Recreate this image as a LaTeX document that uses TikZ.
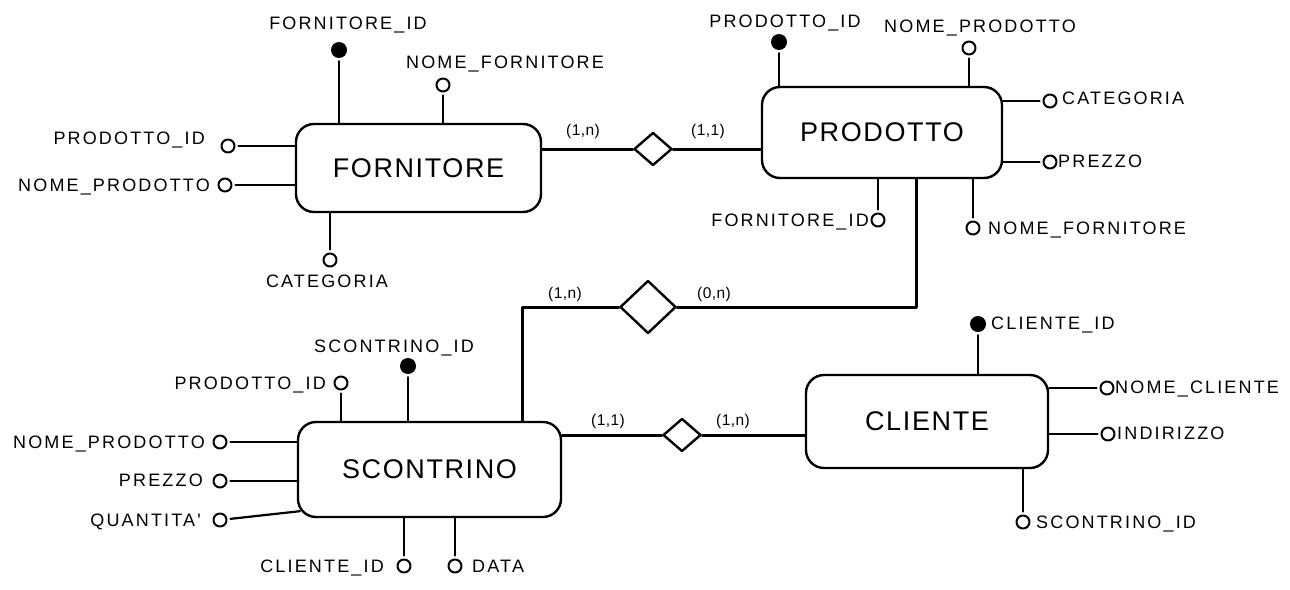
\documentclass[tikz,border=0pt]{standalone}
\usepackage{fontspec}
\setmainfont{Liberation Sans}
\newfontfamily\attrfont[LetterSpace=12]{Liberation Sans}
\newfontfamily\entfont[LetterSpace=6]{Liberation Sans}
\newfontfamily\cardfont[LetterSpace=3]{Liberation Sans}
\usetikzlibrary{shapes.geometric}

\begin{document}
\begin{tikzpicture}[x=1pt,y=-1pt,line join=round,line cap=round,
    entity/.style={draw,line width=2.4pt,rounded corners=18pt,font=\entfont\fontsize{27}{27}\selectfont},
    rel/.style={draw,diamond,line width=2.4pt,inner sep=0pt},
    attr/.style={draw,circle,line width=2pt,minimum size=13pt,inner sep=0pt},
    pk/.style={fill,circle,minimum size=16pt,inner sep=0pt},
    lbl/.style={font=\attrfont\fontsize{18}{18}\selectfont,inner sep=0pt,text height=13pt,text depth=0pt},
    card/.style={font=\cardfont\fontsize{15.5}{15.5}\selectfont,inner sep=0pt},
    aline/.style={line width=2.2pt,shorten <=3pt},
    rline/.style={line width=3pt}]
    \fill[white] (0,0) rectangle (1290,589);
    \useasboundingbox (0,0) rectangle (1290,589);

    \node[entity,minimum width=245pt,minimum height=88pt] (forn) at (418.5,168) {FORNITORE};
    \node[entity,minimum width=240pt,minimum height=91pt] (prod) at (882,132.5) {PRODOTTO};
    \node[entity,minimum width=263pt,minimum height=95pt] (scon) at (429.5,469.5) {SCONTRINO};
    \node[entity,minimum width=242pt,minimum height=93pt] (cli) at (927,421.5) {CLIENTE};

    \node[rel,minimum width=38pt,minimum height=33pt] (r1) at (653,149) {};
    \node[rel,minimum width=56pt,minimum height=53pt] (r2) at (648,307) {};
    \node[rel,minimum width=38pt,minimum height=33pt] (r3) at (682,435) {};

    \draw[rline] (forn.east |- r1) -- (r1.west);
    \draw[rline] (r1.east) -- (r1 -| prod.west);
    \draw[rline] (r2.west) -| ([xshift=92.5pt]scon.north);
    \draw[rline] (r2.east) -| ([xshift=34pt]prod.south);
    \draw[rline] (scon.east |- r3) -- (r3.west);
    \draw[rline] (r3.east) -- (r3 -| cli.west);

    \node[card] (k1) at (583,131) {(1,n)};
    \node[card] (k2) at (708,131) {(1,1)};
    \node[card] (k3) at (565,294) {(1,n)};
    \node[card] (k4) at (714,294) {(0,n)};
    \node[card] (k5) at (608,421) {(1,1)};
    \node[card] (k6) at (733,421) {(1,n)};

    \node[pk] (fid) at (339,50) {};
    \node[attr] (fnome) at (443,85) {};
    \node[attr] (fpid) at (228,146) {};
    \node[attr] (fnp) at (225,185) {};
    \node[attr] (fcat) at (330,260) {};
    \node[lbl] (fidl) at (348,23) {FORNITORE\_ID};
    \node[lbl] (fnomel) at (505,62) {NOME\_FORNITORE};
    \node[lbl,anchor=east] (fpidl) at (205,138) {PRODOTTO\_ID};
    \node[lbl,anchor=east] (fnpl) at (210,185) {NOME\_PRODOTTO};
    \node[lbl] (fcatl) at (327,281) {CATEGORIA};
    \draw[aline] (fid) -- (fid |- forn.north);
    \draw[aline] (fnome) -- (fnome |- forn.north);
    \draw[aline] (fpid) -- (fpid -| forn.west);
    \draw[aline] (fnp) -- (fnp -| forn.west);
    \draw[aline] (fcat) -- (fcat |- forn.south);

    \node[pk] (pid) at (779,42) {};
    \node[attr] (pnome) at (969,48) {};
    \node[attr] (pcat) at (1050,101) {};
    \node[attr] (pprezzo) at (1050,162) {};
    \node[attr] (pfid) at (878,220) {};
    \node[attr] (pnf) at (973,228) {};
    \node[lbl] (pidl) at (785,21) {PRODOTTO\_ID};
    \node[lbl] (pnomel) at (980,26) {NOME\_PRODOTTO};
    \node[lbl,anchor=west] (pcatl) at (1062,98) {CATEGORIA};
    \node[lbl,anchor=west] (pprezzol) at (1058,161) {PREZZO};
    \node[lbl,anchor=east] (pfidl) at (869,220) {FORNITORE\_ID};
    \node[lbl,anchor=west] (pnfl) at (988,228) {NOME\_FORNITORE};
    \draw[aline] (pid) -- (pid |- prod.north);
    \draw[aline] (pnome) -- (pnome |- prod.north);
    \draw[aline] (pcat) -- (pcat -| prod.east);
    \draw[aline] (pprezzo) -- (pprezzo -| prod.east);
    \draw[aline] (pfid) -- (pfid |- prod.south);
    \draw[aline] (pnf) -- (pnf |- prod.south);

    \node[pk] (sid) at (408,366) {};
    \node[attr] (spid) at (341,383) {};
    \node[attr] (snp) at (220,442) {};
    \node[attr] (sprezzo) at (220,481) {};
    \node[attr] (squant) at (220,520) {};
    \node[attr] (scid) at (404,566) {};
    \node[attr] (sdata) at (455,566) {};
    \node[lbl] (sidl) at (394,346) {SCONTRINO\_ID};
    \node[lbl,anchor=east] (spidl) at (326,383) {PRODOTTO\_ID};
    \node[lbl,anchor=east] (snpl) at (205,442) {NOME\_PRODOTTO};
    \node[lbl,anchor=east] (sprezzol) at (203,480) {PREZZO};
    \node[lbl,anchor=east] (squantl) at (201,520) {QUANTITA'};
    \node[lbl,anchor=east] (scidl) at (384,566) {CLIENTE\_ID};
    \node[lbl,anchor=west] (sdatal) at (472,566) {DATA};
    \draw[aline] (sid) -- (sid |- scon.north);
    \draw[aline] (spid) -- (spid |- scon.north);
    \draw[aline] (snp) -- (snp -| scon.west);
    \draw[aline] (sprezzo) -- (sprezzo -| scon.west);
    \draw[aline] (squant) -- ([shift={(3pt,7pt)}]scon.south west);
    \draw[aline] (scid) -- (scid |- scon.south);
    \draw[aline] (sdata) -- (sdata |- scon.south);

    \node[pk] (cid) at (978,324) {};
    \node[attr] (cnome) at (1107,388) {};
    \node[attr] (cind) at (1108,434) {};
    \node[attr] (cscon) at (1023,522) {};
    \node[lbl,anchor=west] (cidl) at (991,323) {CLIENTE\_ID};
    \node[lbl,anchor=west] (cnomel) at (1115,387) {NOME\_CLIENTE};
    \node[lbl,anchor=west] (cindl) at (1117,433) {INDIRIZZO};
    \node[lbl,anchor=west] (csconl) at (1036,522) {SCONTRINO\_ID};
    \draw[aline] (cid) -- (cid |- cli.north);
    \draw[aline] (cnome) -- (cnome -| cli.east);
    \draw[aline] (cind) -- (cind -| cli.east);
    \draw[aline] (cscon) -- (cscon |- cli.south);
\end{tikzpicture}
\end{document}
